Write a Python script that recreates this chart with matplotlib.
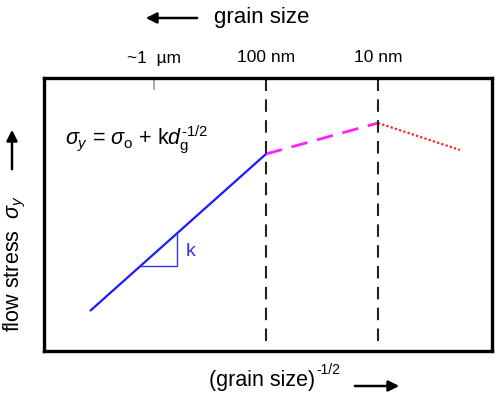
import matplotlib
matplotlib.use("Agg")
import matplotlib.pyplot as plt
from matplotlib.patches import FancyArrowPatch

plt.rcParams["font.family"] = ["Liberation Sans", "DejaVu Sans"]
plt.rcParams["mathtext.fontset"] = "custom"
plt.rcParams["mathtext.rm"] = "Liberation Sans"
plt.rcParams["mathtext.it"] = "Liberation Sans:italic"

# schematic Hall-Petch data (arbitrary units, x = grain size^-1/2)
hp_x = [46, 222]          # Hall-Petch regime (blue)
hp_y = [40, 197]
mid_x = [222, 334]        # weakened strengthening (magenta dashed)
mid_y = [197, 228]
inv_x = [334, 416]        # inverse Hall-Petch (red dotted)
inv_y = [228, 201]
bound_x = [222, 334]      # regime boundaries
bound_labels = ["100 nm", "10 nm"]
um_x = 110
um_label = "~1  µm"

W, H = 500, 402
fig = plt.figure(figsize=(W / 100, H / 100), dpi=100)
ax = fig.add_axes([44 / W, (H - 352) / H, 448 / W, 273 / H])
ax.set_xlim(0, 448)
ax.set_ylim(0, 273)
ax.set_xticks([])
ax.set_yticks([])
for sp in ax.spines.values():
    sp.set_linewidth(2.4)

ax.plot(hp_x, hp_y, color="#1a1aff", lw=1.6, solid_capstyle="butt")
ax.plot(mid_x, mid_y, color="#ff22ff", lw=2.0, dashes=(6, 3.5))
ax.plot(inv_x, inv_y, color="#ff2020", lw=1.6, ls=(0, (1, 1)))
for bx in bound_x:
    ax.plot([bx, bx], [10, 272], color="#222222", lw=1.5, dashes=(6, 4))
ax.plot([um_x, um_x], [262, 270], color="#999999", lw=1.2)

# slope triangle
slope = (hp_y[1] - hp_y[0]) / (hp_x[1] - hp_x[0])
tx2 = 133
ty1 = 85
tx1 = hp_x[0] + (ty1 - hp_y[0]) / slope
ty2 = hp_y[0] + (tx2 - hp_x[0]) * slope
ax.plot([tx1, tx2, tx2], [ty1, ty1, ty2], color="#3333ee", lw=1.0)
ax.text(tx2 + 9, (ty1 + ty2) / 2 - 1, "k", color="#3333ee", fontsize=14,
        ha="left", va="center")

ax.text(21, 212, r"$\it{\sigma}_{\it{y}}$ = $\it{\sigma}_{\rm{o}}$ + k$\it{d}_{\rm{g}}^{\text{-1/2}}$",
        fontsize=15.5, ha="left", va="center")


# labels around the box (figure pixel coords)
def ftxt(x, y, s, **kw):
    fig.text(x / W, 1 - y / H, s, **kw)


def farrow(x0, y0, x1, y1):
    fig.patches.append(FancyArrowPatch(
        (x0 / W, 1 - y0 / H), (x1 / W, 1 - y1 / H), transform=fig.transFigure,
        arrowstyle="-|>", mutation_scale=16, lw=1.8, color="black"))


ftxt(um_x + 44, 58, um_label, fontsize=12.5, ha="center", va="center")
for bx, lab in zip(bound_x, bound_labels):
    ftxt(bx + 44, 58, lab, fontsize=12.5, ha="center", va="center")

ftxt(214, 18, "grain size", fontsize=16, ha="left", va="center")
farrow(200, 19, 143, 19)

ftxt(315, 381, "(grain size)", fontsize=15.5, ha="right", va="center")
ftxt(316, 370, "-1/2", fontsize=10, ha="left", va="center")
farrow(352, 387, 402, 387)

ftxt(15, 264, r"flow stress  $\it{\sigma}_{\it{y}}$", fontsize=15.5, rotation=90,
     ha="center", va="center")
farrow(12, 173, 12, 128)

fig.savefig("out.png", dpi=100)
